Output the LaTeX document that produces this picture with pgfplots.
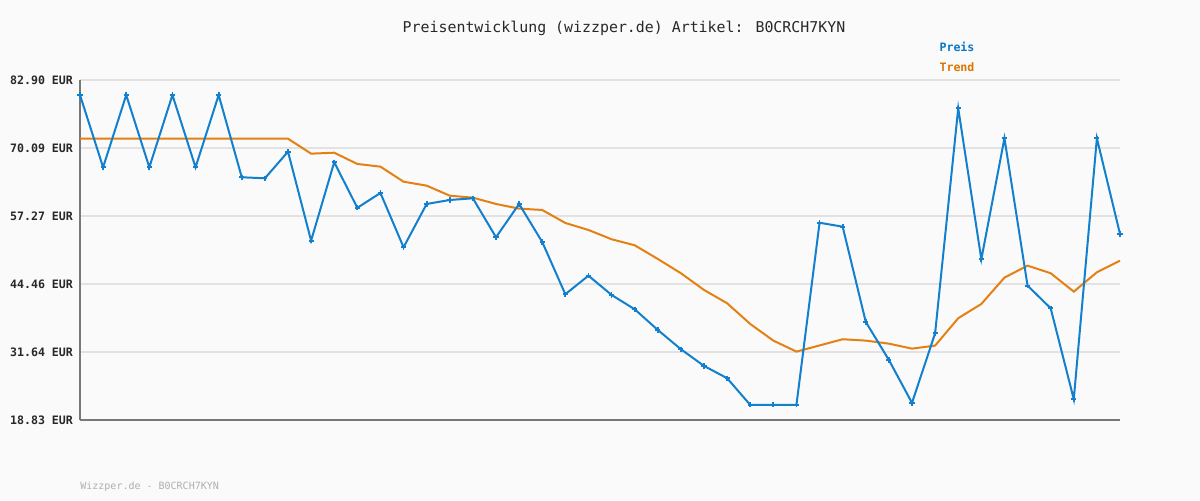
\documentclass[border=0pt]{standalone}
\usepackage{pgfplots}
\pgfplotsset{compat=1.18}
\usepackage{fontspec}
\setmainfont{DejaVu Sans Mono}
\definecolor{bg}{RGB}{250,250,250}
\definecolor{gridc}{RGB}{226,226,226}
\definecolor{axc}{RGB}{120,120,120}
\definecolor{preis}{RGB}{18,128,205}
\definecolor{trend}{RGB}{228,128,20}
\definecolor{preistxt}{RGB}{10,118,200}
\definecolor{trendtxt}{RGB}{220,118,0}
\definecolor{foot}{RGB}{175,175,175}
\definecolor{titc}{RGB}{40,40,40}
\begin{document}
\begin{tikzpicture}
\fill[bg] (0pt,0pt) rectangle (600pt,250pt);
\begin{axis}[
  at={(40pt,40pt)}, anchor=south west,
  scale only axis, width=520pt, height=170pt,
  xmin=0, xmax=45, ymin=18.83, ymax=82.90,
  axis x line*=bottom, axis y line*=left,
  axis line style={axc, line width=1pt, -},
  xtick=\empty,
  ytick={18.83,31.64,44.46,57.27,70.09,82.90},
  yticklabels={18.83 EUR,31.64 EUR,44.46 EUR,57.27 EUR,70.09 EUR,82.90 EUR},
  yticklabel style={font=\fontsize{5.8}{6}\selectfont\bfseries, text=titc, xshift=0pt},
  major tick length=0pt,
  ymajorgrids, grid style={gridc, line width=1pt},
  clip=false,
]
\addplot[trend, line width=1pt] coordinates {
(0,71.84)(1,71.84)(2,71.84)(3,71.84)(4,71.84)(5,71.84)(6,71.84)(7,71.84)(8,71.84)(9,71.84)
(10,69.02)(11,69.20)(12,67.08)(13,66.57)(14,63.74)(15,62.99)(16,61.10)(17,60.73)(18,59.54)(19,58.66)
(20,58.41)(21,55.96)(22,54.64)(23,52.89)(24,51.76)(25,49.18)(26,46.49)(27,43.34)(28,40.83)(29,36.93)
(30,33.79)(31,31.72)(32,32.88)(33,34.05)(34,33.79)(35,33.22)(36,32.28)(37,32.85)(38,38.01)(39,40.70)
(40,45.66)(41,47.92)(42,46.49)(43,43.02)(44,46.67)(45,48.86)
};
\addplot[preis, line width=1pt, mark=+, mark size=1.3pt, mark options={line width=0.9pt}] coordinates {
(0,80.07)(1,66.45)(2,80.07)(3,66.45)(4,80.07)(5,66.45)(6,80.07)(7,64.57)(8,64.38)(9,69.39)
(10,52.63)(11,67.41)(12,58.82)(13,61.61)(14,51.38)(15,59.54)(16,60.29)(17,60.61)(18,53.27)(19,59.54)
(20,52.38)(21,42.53)(22,46.03)(23,42.40)(24,39.70)(25,35.80)(26,32.17)(27,29.02)(28,26.71)(29,21.68)
(30,21.68)(31,21.68)(32,56.00)(33,55.26)(34,37.31)(35,30.15)(36,22.05)(37,35.18)(38,77.57)(39,49.12)
(40,71.92)(41,44.15)(42,39.89)(43,22.75)(44,71.92)(45,53.89)
};
\end{axis}
\node[font=\fontsize{7.45}{8}\selectfont, text=titc] at (312pt,236pt) {Preisentwicklung (wizzper.de) Artikel: B0CRCH7KYN};
\node[font=\fontsize{5.8}{6}\selectfont\bfseries, text=preistxt] at (478.5pt,226.5pt) {Preis};
\node[font=\fontsize{5.8}{6}\selectfont\bfseries, text=trendtxt] at (478.5pt,216.5pt) {Trend};
\node[font=\fontsize{5}{6}\selectfont, text=foot, anchor=west, inner sep=0pt] at (40pt,6.5pt) {Wizzper.de - B0CRCH7KYN};
\end{tikzpicture}
\end{document}
